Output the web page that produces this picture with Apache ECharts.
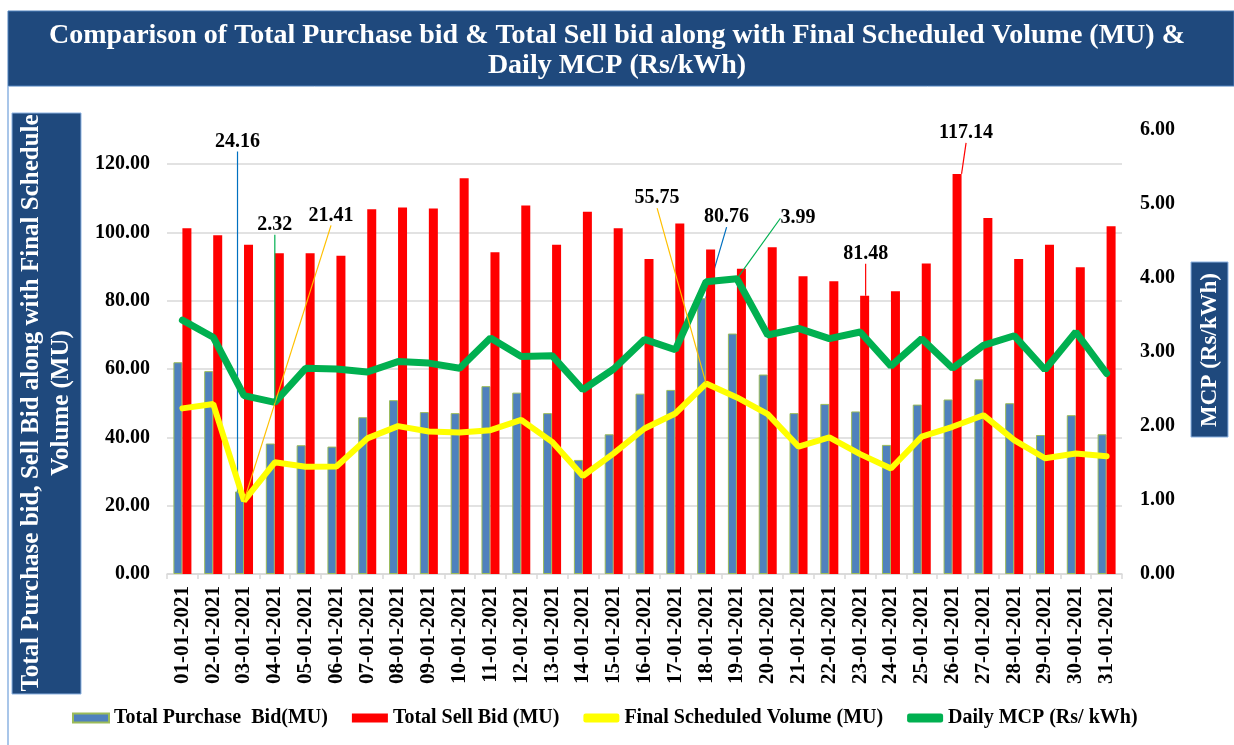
<!DOCTYPE html>
<html>
<head>
<meta charset="utf-8">
<title>Purchase bid, Sell bid, Scheduled Volume and MCP - Jan 2021</title>
<script src="https://cdn.jsdelivr.net/npm/echarts@6/dist/echarts.min.js"></script>
<style>
  html, body { margin: 0; padding: 0; background: #fff; }
  #chart { width: 1234px; height: 745px; }
</style>
</head>
<body>
<div id="chart"></div>
<script>
// data
const dates = [
  '01-01-2021', '02-01-2021', '03-01-2021', '04-01-2021', '05-01-2021', '06-01-2021',
  '07-01-2021', '08-01-2021', '09-01-2021', '10-01-2021', '11-01-2021', '12-01-2021',
  '13-01-2021', '14-01-2021', '15-01-2021', '16-01-2021', '17-01-2021', '18-01-2021',
  '19-01-2021', '20-01-2021', '21-01-2021', '22-01-2021', '23-01-2021', '24-01-2021',
  '25-01-2021', '26-01-2021', '27-01-2021', '28-01-2021', '29-01-2021', '30-01-2021',
  '31-01-2021',
];
const purchaseBid = [
  62.0, 59.4, 24.16, 38.2, 37.7, 37.3, 45.9, 50.9, 47.4, 47.1, 55.0, 53.1, 47.1, 33.4, 40.9, 52.8,
  53.9, 80.76, 70.4, 58.4, 47.1, 49.8, 47.6, 37.8, 49.6, 51.1, 57.0, 50.0, 40.7, 46.5, 40.9,
];
const sellBid = [
  101.2, 99.2, 96.4, 93.9, 93.9, 93.2, 106.8, 107.3, 107.0, 115.9, 94.2, 107.9, 96.4, 106.1, 101.2, 92.2,
  102.6, 95.0, 89.4, 95.7, 87.2, 85.7, 81.48, 82.8, 90.9, 117.14, 104.2, 92.2, 96.4, 89.8, 101.8,
];
const scheduledVolume = [
  48.5, 49.8, 21.41, 32.7, 31.4, 31.5, 39.7, 43.3, 41.7, 41.4, 42.1, 45.1, 38.7, 28.7, 35.3, 42.6,
  47.0, 55.75, 51.7, 46.8, 37.3, 40.0, 35.1, 30.9, 40.2, 43.1, 46.5, 39.2, 33.9, 35.3, 34.5,
];
const dailyMcp = [
  3.43, 3.20, 2.41, 2.32, 2.78, 2.77, 2.73, 2.87, 2.85, 2.78, 3.19, 2.94, 2.95, 2.49, 2.77, 3.17,
  3.03, 3.95, 3.99, 3.23, 3.32, 3.18, 3.27, 2.81, 3.18, 2.78, 3.09, 3.22, 2.76, 3.27, 2.71,
];
const leftTicks = { min: 0, max: 130, interval: 20 };
const rightTicks = { min: 0, max: 6, interval: 1 };

// which points carry a call-out label, and how far the label is pulled away (px)
const callouts = {
  purchase: { 2: [-2, -335], 17: [25, -66] },
  sell: { 22: [1, -27], 25: [9, -26] },
  scheduled: { 2: [87, -270], 17: [-49, -170] },
  mcp: { 3: [0, -162], 18: [61, -45] },
};

const FONT = '"Liberation Serif", "Times New Roman", serif';
const NAVY = '#1f497d';

function withCallouts(values, marks) {
  return values.map((v, i) => {
    if (!marks[i]) return v;
    return { value: v, label: { show: true }, labelLine: { show: true } };
  });
}

function layoutFor(marks) {
  return function(params) {
    const m = marks[params.dataIndex];
    if (!m) return {};
    return { dx: m[0], dy: m[1] };
  };
}

const calloutLabel = {
  show: false,
  position: 'top',
  distance: 5,
  color: '#000',
  fontFamily: FONT,
  fontWeight: 'bold',
  fontSize: 20,
  formatter: p => p.value.toFixed(2),
};

const axisFont = {
  color: '#000',
  fontFamily: FONT,
  fontWeight: 'bold',
  fontSize: 20,
};

const chart = echarts.init(document.getElementById('chart'));

const option = {
  animation: false,
  backgroundColor: '#fff',
  title: {
    text: 'Comparison of Total Purchase bid & Total Sell bid along with Final Scheduled Volume (MU) &\nDaily MCP (Rs/kWh)',
    left: 'center',
    top: 16,
    textStyle: {
      color: '#fff',
      fontFamily: FONT,
      fontWeight: 'bold',
      fontSize: 28,
      lineHeight: 30,
    },
  },
  graphic: [
    { type: 'rect', z: -1, shape: { x: 8, y: 11, width: 1226, height: 75 }, style: { fill: NAVY, stroke: '#4f81bd', lineWidth: 1 } },
    { type: 'line', shape: { x1: 8, y1: 86, x2: 8, y2: 745 }, style: { stroke: '#8db3e2', lineWidth: 1.5 } },
    { type: 'rect', shape: { x: 12, y: 113, width: 69, height: 581 }, style: { fill: NAVY, stroke: '#8db3e2', lineWidth: 1 } },
    {
      type: 'text', x: 47, y: 403, rotation: Math.PI / 2,
      style: {
        text: 'Total Purchase bid, Sell Bid along with Final Schedule\nVolume (MU)',
        fill: '#fff', font: 'bold 25px ' + FONT, align: 'center', verticalAlign: 'middle', lineHeight: 30,
      },
    },
    { type: 'rect', shape: { x: 1191, y: 262, width: 37, height: 175 }, style: { fill: NAVY, stroke: '#8db3e2', lineWidth: 1 } },
    {
      type: 'text', x: 1210, y: 350, rotation: Math.PI / 2,
      style: { text: 'MCP (Rs/kWh)', fill: '#fff', font: 'bold 23px ' + FONT, align: 'center', verticalAlign: 'middle' },
    },
  ],
  legend: {
    left: 72,
    top: 708,
    padding: 0,
    itemGap: 24,
    itemWidth: 36,
    itemHeight: 9,
    textStyle: { color: '#000', fontFamily: FONT, fontWeight: 'bold', fontSize: 20 },
    data: [
      { name: 'Total Purchase  Bid(MU)', icon: 'rect' },
      { name: 'Total Sell Bid (MU)', icon: 'rect' },
      { name: 'Final Scheduled Volume (MU)', icon: 'roundRect' },
      { name: 'Daily MCP (Rs/ kWh)', icon: 'roundRect' },
    ],
  },
  grid: { left: 167, right: 112, top: 130, bottom: 171, containLabel: false },
  xAxis: {
    type: 'category',
    data: dates,
    axisLine: { lineStyle: { color: '#d9d9d9', width: 1.5 } },
    axisTick: { show: true, length: 5, lineStyle: { color: '#d9d9d9', width: 1.5 } },
    axisLabel: Object.assign({ interval: 0, rotate: 90, margin: 12 }, axisFont, { fontSize: 21 }),
  },
  yAxis: [
    {
      type: 'value',
      min: leftTicks.min,
      max: leftTicks.max,
      interval: leftTicks.interval,
      axisLine: { show: false },
      axisTick: { show: false },
      splitLine: { show: true, showMaxLine: false, lineStyle: { color: '#d9d9d9', width: 1.5 } },
      axisLabel: Object.assign({ showMaxLabel: false, margin: 17, formatter: v => v.toFixed(2) }, axisFont),
    },
    {
      type: 'value',
      position: 'right',
      min: rightTicks.min,
      max: rightTicks.max,
      interval: rightTicks.interval,
      axisLine: { show: false },
      axisTick: { show: false },
      splitLine: { show: false },
      axisLabel: Object.assign({ margin: 18, formatter: v => v.toFixed(2) }, axisFont),
    },
  ],
  series: [
    {
      name: 'Total Purchase  Bid(MU)',
      type: 'bar',
      barWidth: 9,
      barGap: '0%',
      itemStyle: { color: '#4f81bd', borderColor: '#9bbb59', borderWidth: 1 },
      label: calloutLabel,
      labelLine: { lineStyle: { color: '#0070c0', width: 1.2 } },
      labelLayout: layoutFor(callouts.purchase),
      data: withCallouts(purchaseBid, callouts.purchase),
    },
    {
      name: 'Total Sell Bid (MU)',
      type: 'bar',
      barWidth: 9,
      barGap: '0%',
      itemStyle: { color: '#ff0000' },
      label: calloutLabel,
      labelLine: { lineStyle: { color: '#ff0000', width: 1.2 } },
      labelLayout: layoutFor(callouts.sell),
      data: withCallouts(sellBid, callouts.sell),
    },
    {
      name: 'Final Scheduled Volume (MU)',
      type: 'line',
      symbol: 'circle',
      symbolSize: 1,
      itemStyle: { color: '#ffff00' },
      lineStyle: { color: '#ffff00', width: 6, cap: 'round' },
      label: calloutLabel,
      labelLine: { lineStyle: { color: '#ffc000', width: 1.2 } },
      labelLayout: layoutFor(callouts.scheduled),
      data: withCallouts(scheduledVolume, callouts.scheduled),
    },
    {
      name: 'Daily MCP (Rs/ kWh)',
      type: 'line',
      yAxisIndex: 1,
      symbol: 'circle',
      symbolSize: 1,
      itemStyle: { color: '#00b050' },
      lineStyle: { color: '#00b050', width: 7, cap: 'round' },
      label: calloutLabel,
      labelLine: { lineStyle: { color: '#00b050', width: 1.2 } },
      labelLayout: layoutFor(callouts.mcp),
      data: withCallouts(dailyMcp, callouts.mcp),
    },
  ],
};

chart.setOption(option);
</script>
</body>
</html>
